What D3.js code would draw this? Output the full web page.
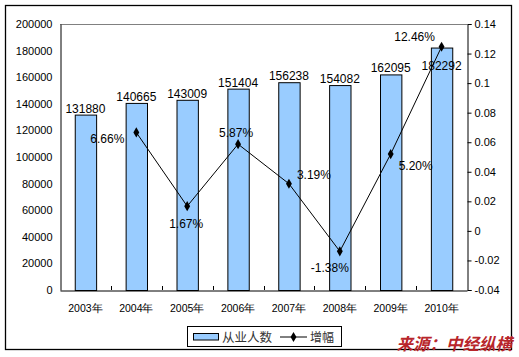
<!DOCTYPE html>
<html><head><meta charset="utf-8">
<script src="https://cdn.jsdelivr.net/npm/d3@7"></script>
<style>body{margin:0;background:#fff;}svg{display:block;font-family:Arial,"Liberation Sans",sans-serif;}</style>
</head><body>
<script>
const categories = ["2003年","2004年","2005年","2006年","2007年","2008年","2009年","2010年"];
const employed = [131880,140665,143009,151404,156238,154082,162095,182292];
const growth = [null,0.0666,0.0167,0.0587,0.0319,-0.0138,0.0520,0.1246];
const growthLabels = ["","6.66%","1.67%","5.87%","3.19%","-1.38%","5.20%","12.46%"];
const leftTicks = [0,20000,40000,60000,80000,100000,120000,140000,160000,180000,200000];
const rightTicks = [-0.04,-0.02,0,0.02,0.04,0.06,0.08,0.1,0.12,0.14];
const seriesNames = ["从业人数","增幅"];
const sourceText = "来源：中经纵横";

// layout offsets for labels (dx, dy of label centre from point)
const pctOffsets = [null,[-29,6],[-1,17],[-2,-12],[25,-9],[-10,16],[25,11],[-27,-10]];
const barLabelDrop = [0,0,0,0,0,0,0,24];

const W=519,H=357;
const m={l:60,r:467,t:24,b:290};
const svg=d3.select("body").append("svg").attr("width",W).attr("height",H);

svg.append("rect").attr("x",5.5).attr("y",5.5).attr("width",506).attr("height",344)
  .attr("fill","#fff").attr("stroke","#000").attr("stroke-width",1.3);

const x=d3.scaleBand().domain(categories).range([m.l,m.r]);
const yL=d3.scaleLinear().domain([0,200000]).range([m.b,m.t]);
const yR=d3.scaleLinear().domain([-0.04,0.14]).range([m.b,m.t]);

// top border of plot area
svg.append("line").attr("x1",m.l).attr("x2",m.r).attr("y1",m.t+0.5).attr("y2",m.t+0.5).attr("stroke","#808080");

// bars
const bw=x.bandwidth()*0.42;
svg.selectAll("rect.bar").data(employed).enter().append("rect")
  .attr("x",(d,i)=>x(categories[i])+x.bandwidth()/2-bw/2+0.5)
  .attr("y",d=>yL(d)+0.5).attr("width",bw).attr("height",d=>m.b-yL(d))
  .attr("fill","#99CCFF").attr("stroke","#000").attr("stroke-width",1);

// left axis
const gL=svg.append("g").attr("transform",`translate(${m.l+0.5},0)`)
  .call(d3.axisLeft(yL).tickValues(leftTicks).tickSize(0).tickPadding(8).tickFormat(d3.format("d")));
gL.select(".domain").attr("stroke","#000");
gL.selectAll("text").attr("font-size",11).attr("fill","#000").attr("font-family","Arial");

// right axis
const gR=svg.append("g").attr("transform",`translate(${m.r+0.5},0)`)
  .call(d3.axisRight(yR).tickValues(rightTicks).tickSize(4).tickPadding(3).tickFormat(d=>+d.toFixed(2)+""));
gR.select(".domain").attr("stroke","#000");
gR.selectAll("line").attr("stroke","#000");
gR.selectAll("text").attr("font-size",11).attr("fill","#000").attr("font-family","Arial");

// bottom axis
const gB=svg.append("g").attr("transform",`translate(0,${m.b+0.5})`)
  .call(d3.axisBottom(x).tickSize(0).tickPadding(14));
gB.select(".domain").attr("stroke","#000");
gB.selectAll("text").attr("font-size",10.5).attr("fill","#000").attr("font-family","Arial");
// inside tick marks between categories
svg.append("g").selectAll("line").data(categories.slice(1)).enter().append("line")
  .attr("x1",d=>Math.round(x(d))+0.5).attr("x2",d=>Math.round(x(d))+0.5)
  .attr("y1",m.b).attr("y2",m.b-4).attr("stroke","#000");

// bar labels
svg.selectAll("text.bl").data(employed).enter().append("text")
  .attr("x",(d,i)=>x(categories[i])+x.bandwidth()/2)
  .attr("y",(d,i)=>yL(d)-2+barLabelDrop[i])
  .attr("text-anchor","middle").attr("font-size",12).attr("fill","#000").text(d=>d);

// line
const pts=growth.map((g,i)=>g==null?null:[x(categories[i])+x.bandwidth()/2,yR(g)]).filter(p=>p);
svg.append("path").attr("d",d3.line()(pts)).attr("fill","none").attr("stroke","#000").attr("stroke-width",1);
const diamond=d3.symbol().type(d3.symbolDiamond).size(30);
svg.selectAll("path.mk").data(pts).enter().append("path")
  .attr("d",diamond).attr("transform",d=>`translate(${d[0]},${d[1]})`).attr("fill","#000");

// pct labels
growth.forEach((g,i)=>{
  if(g==null)return;
  const px=x(categories[i])+x.bandwidth()/2, py=yR(g);
  svg.append("text").attr("x",px+pctOffsets[i][0]).attr("y",py+pctOffsets[i][1]+4.5)
    .attr("text-anchor","middle").attr("font-size",12).attr("fill","#000").text(growthLabels[i]);
});

// legend
const lg=svg.append("g");
lg.append("rect").attr("x",187.5).attr("y",326.5).attr("width",154).attr("height",20)
  .attr("fill","#fff").attr("stroke","#000").attr("stroke-width",1);
lg.append("rect").attr("x",193.5).attr("y",333.5).attr("width",25).attr("height",6.5)
  .attr("fill","#99CCFF").attr("stroke","#000");
lg.append("text").attr("x",222).attr("y",341.5).attr("font-size",12.5)
  .attr("font-family","'Noto Sans CJK SC',sans-serif").attr("fill","#333").text(seriesNames[0]);
lg.append("line").attr("x1",280).attr("x2",307).attr("y1",337).attr("y2",337).attr("stroke","#000");
lg.append("path").attr("d",diamond).attr("transform","translate(293.5,337)").attr("fill","#000");
lg.append("text").attr("x",310).attr("y",341.5).attr("font-size",12)
  .attr("font-family","'Noto Sans CJK SC',sans-serif").attr("fill","#333").text(seriesNames[1]);

// source
svg.append("text").attr("x",512).attr("y",350).attr("text-anchor","end")
  .attr("font-size",16.5).attr("font-weight","bold").attr("font-style","italic")
  .attr("font-family","'Noto Sans CJK SC',sans-serif").attr("fill","#B8262B").text(sourceText);
</script>
</body></html>
